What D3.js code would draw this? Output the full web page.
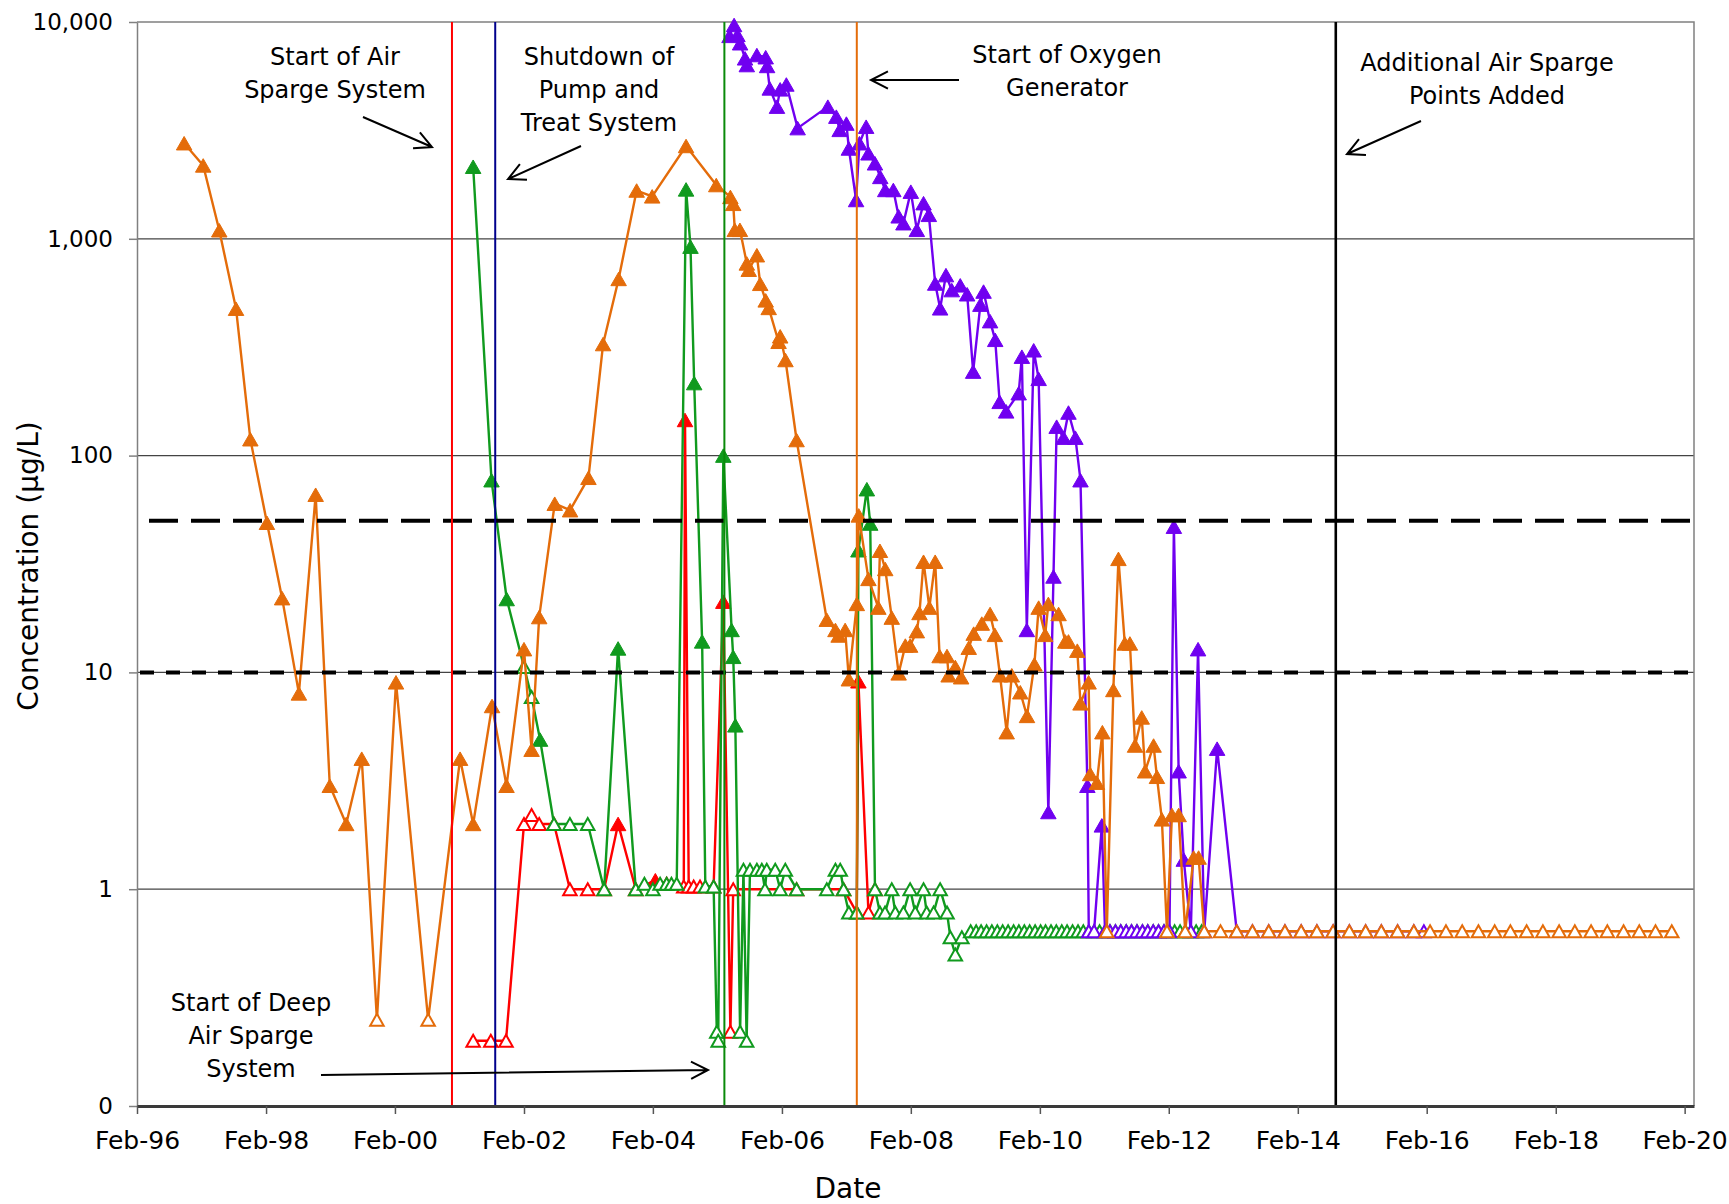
<!DOCTYPE html>
<html>
<head>
<meta charset="utf-8">
<script src="https://cdn.jsdelivr.net/npm/d3@7"></script>
<style>
  html, body { margin: 0; padding: 0; background: #fff; }
  svg { display: block; }
</style>
</head>
<body>
<svg id="chart" width="1729" height="1204"></svg>
<script>
// ---- data ("<x" = non-detect at reporting limit x) ----
const orangeDates = [
  "1996-10-25","1997-02-10","1997-05-12","1997-08-15","1997-11-04","1998-02-06","1998-05-03","1998-08-06","1998-11-09","1999-01-28",
  "1999-05-01","1999-07-28","1999-10-22","2000-02-07","2000-08-07","2001-02-04","2001-04-19","2001-08-04","2001-10-25","2002-02-01",
  "2002-03-16","2002-04-28","2002-07-25","2002-10-20","2003-02-01","2003-04-25","2003-07-22","2003-11-01","2004-01-28","2004-08-07",
  "2005-01-25","2005-04-15","2005-05-01","2005-05-10","2005-06-08","2005-07-17","2005-07-28","2005-09-12","2005-10-01","2005-11-01",
  "2005-11-18","2006-01-13","2006-01-22","2006-02-21","2006-04-25","2006-10-13","2006-12-01","2006-12-19","2007-01-25","2007-02-15",
  "2007-04-01","2007-04-12","2007-06-06","2007-08-01","2007-08-10","2007-09-09","2007-10-16","2007-11-24","2008-01-01","2008-01-28",
  "2008-03-06","2008-03-21","2008-04-13","2008-05-16","2008-06-18","2008-07-13","2008-08-24","2008-09-02","2008-10-10","2008-11-12",
  "2008-12-25","2009-01-22","2009-03-09","2009-04-25","2009-05-22","2009-06-20","2009-07-28","2009-08-26","2009-10-13","2009-11-20",
  "2010-01-01","2010-01-25","2010-03-03","2010-03-21","2010-05-18","2010-06-25","2010-07-13","2010-09-01","2010-09-19","2010-11-04",
  "2010-11-13","2010-12-21","2011-01-21","2011-02-15","2011-03-24","2011-04-22","2011-05-28","2011-06-26","2011-07-25","2011-09-01",
  "2011-09-20","2011-11-07","2011-11-26","2011-12-24","2012-01-22","2012-02-19","2012-03-28","2012-05-04","2012-06-21","2012-07-19",
  "2012-08-20","2012-11-20","2013-02-20","2013-05-20","2013-08-20","2013-11-20","2014-02-20","2014-05-20","2014-08-20","2014-11-20",
  "2015-02-20","2015-05-20","2015-08-20","2015-11-20","2016-02-20","2016-05-20","2016-08-20","2016-11-20","2017-02-20","2017-05-20",
  "2017-08-20","2017-11-20","2018-02-20","2018-05-20","2018-08-20","2018-11-20","2019-02-20","2019-05-20","2019-08-20","2019-11-20"
];
const orangeValues = [
  2760, 2180, 1095, 476, 119, 49, 22, 8.0, 66, 3.0,
  2.0, 4.0, "<0.25", 9.0, "<0.25", 4.0, 2.0, 7.0, 3.0, 12.8,
  4.4, 18, 60, 56, 79, 327, 653, 1670, 1570, 2680,
  1770, 1560, 1450, 1100, 1100, 770, 720, 840, 620, 520,
  480, 335, 355, 276, 118, 17.5, 15.7, 14.8, 15.7, 9.3,
  20.7, 53, 27, 19.9, 36.4, 30, 17.9, 9.9, 13.3, 13.3,
  15.5, 18.8, 32.4, 19.9, 32.4, 11.9, 11.9, 9.7, 10.6, 9.5,
  13.0, 15.1, 16.8, 18.6, 14.9, 9.7, 5.3, 9.7, 8.1, 6.3,
  10.9, 19.9, 14.9, 20.7, 18.6, 13.9, 13.9, 12.6, 7.2, 9.0,
  3.4, 3.1, 5.3, "<0.64", 8.3, 33.4, 13.6, 13.6, 4.6, 6.2,
  3.5, 4.6, 3.3, 2.1, "<0.64", 2.2, 2.2, "<0.64", 1.4, 1.4,
  "<0.64", "<0.64", "<0.64", "<0.64", "<0.64", "<0.64", "<0.64", "<0.64", "<0.64", "<0.64",
  "<0.64", "<0.64", "<0.64", "<0.64", "<0.64", "<0.64", "<0.64", "<0.64", "<0.64", "<0.64",
  "<0.64", "<0.64", "<0.64", "<0.64", "<0.64", "<0.64", "<0.64", "<0.64", "<0.64", "<0.64"
];

const greenDates = [
  "2001-04-19","2001-08-01","2001-10-26","2002-02-01","2002-03-16","2002-05-03","2002-07-21","2002-10-19","2003-01-28","2003-05-01",
  "2003-07-19","2003-10-27","2003-12-15","2004-02-01","2004-03-13","2004-04-19","2004-05-16","2004-06-15","2004-08-07","2004-09-01",
  "2004-09-22","2004-11-06","2004-11-24","2005-01-10","2005-01-28","2005-02-05","2005-03-06","2005-04-22","2005-05-01","2005-05-13",
  "2005-06-09","2005-06-28","2005-07-16","2005-08-04","2005-09-12","2005-10-10","2005-10-28","2005-11-07","2005-12-25","2006-01-22",
  "2006-02-20","2006-04-25","2006-10-13","2006-12-01","2006-12-28","2007-01-16","2007-02-15","2007-04-01","2007-04-10","2007-05-28",
  "2007-06-16","2007-07-13","2007-08-10","2007-09-08","2007-10-16","2007-11-05","2007-12-21","2008-01-28","2008-02-26","2008-04-13",
  "2008-05-01","2008-06-09","2008-07-16","2008-08-24","2008-09-12","2008-10-10","2008-11-16",
  "2009-01-05","2009-02-05","2009-03-05","2009-04-05","2009-05-05","2009-06-05","2009-07-05","2009-08-05","2009-09-05","2009-10-05","2009-11-05","2009-12-05",
  "2010-01-05","2010-02-05","2010-03-05","2010-04-05","2010-05-05","2010-06-05","2010-07-05","2010-08-05","2010-09-05","2010-10-05","2010-11-05","2010-12-05",
  "2011-01-05","2011-02-05","2011-03-05","2011-04-05","2011-05-05","2011-06-05","2011-07-05","2011-08-05","2011-09-05","2011-10-05","2011-11-05","2011-12-05",
  "2012-01-05","2012-02-05","2012-03-05","2012-04-05","2012-05-05","2012-06-05","2012-07-05","2012-08-05"
];
const greenValues = [
  2150, 77, 21.8, "<10.6", "<7.7", 4.9, "<2", "<2", "<2", "<1",
  12.9, "<1", "<1.06", "<1", "<1.06", "<1.06", "<1.06", "<1.06", 1690, 920,
  216, 13.9, "<1.03", "<1.03", "<0.22", "<0.2", 100, 15.7, 11.8, 5.7,
  "<0.22", "<1.23", "<0.2", "<1.23", "<1.23", "<1.23", "<1", "<1.23", "<1.23", "<1",
  "<1.23", "<1", "<1", "<1.23", "<1.23", "<1", "<0.78", "<0.78", 36.6, 70,
  48.6, "<1", "<0.78", "<0.78", "<1", "<0.78", "<0.78", "<1", "<0.78", "<1",
  "<0.78", "<0.78", "<1", "<0.78", "<0.6", "<0.5", "<0.6",
  "<0.64", "<0.64", "<0.64", "<0.64", "<0.64", "<0.64", "<0.64", "<0.64", "<0.64", "<0.64", "<0.64", "<0.64",
  "<0.64", "<0.64", "<0.64", "<0.64", "<0.64", "<0.64", "<0.64", "<0.64", "<0.64", "<0.64", "<0.64", "<0.64",
  "<0.64", "<0.64", "<0.64", "<0.64", "<0.64", "<0.64", "<0.64", "<0.64", "<0.64", "<0.64", "<0.64", "<0.64",
  "<0.64", "<0.64", "<0.64", "<0.64", "<0.64", "<0.64", "<0.64", "<0.64"
];

const redDates = [
  "2001-04-19","2001-07-28","2001-10-22","2002-02-01","2002-03-16","2002-04-28","2002-07-21","2002-10-19","2003-01-28","2003-05-01",
  "2003-07-19","2003-10-27","2004-02-15","2004-04-19","2004-07-25","2004-08-01","2004-08-22","2004-09-19","2004-10-25","2005-01-10",
  "2005-03-06","2005-04-15","2005-05-01","2006-04-25","2007-01-16","2007-04-01","2007-04-10","2007-06-06","2007-07-13"
];
const redValues = [
  "<0.2", "<0.2", "<0.2", "<2", "<2.2", "<2", "<2", "<1", "<1", "<1",
  2.0, "<1", 1.1, "<1.06", "<1.03", 146, "<1.03", "<1.03", "<1.03", "<1.03",
  21.2, "<0.22", "<1", "<1", "<1", "<0.78", 9.1, "<0.78", "<1"
];

const purpleDates = [
  "2005-04-10","2005-05-06","2005-05-25","2005-06-09","2005-07-07","2005-07-17","2005-09-12","2005-11-01","2005-11-09","2005-11-24",
  "2006-01-04","2006-01-22","2006-02-26","2006-05-01","2006-10-19","2006-12-06","2006-12-25","2007-02-01","2007-02-15","2007-03-28",
  "2007-04-16","2007-05-24","2007-06-06","2007-07-13","2007-08-12","2007-09-09","2007-10-25","2007-11-24","2007-12-21","2008-02-01",
  "2008-03-06","2008-04-13","2008-05-13","2008-06-18","2008-07-16","2008-08-18","2008-09-20","2008-11-07","2008-12-16","2009-01-19",
  "2009-03-01","2009-03-19","2009-04-25","2009-05-24","2009-06-18","2009-07-25","2009-10-04","2009-10-22","2009-11-19","2009-12-28",
  "2010-01-25","2010-03-21","2010-04-19","2010-05-07","2010-06-15","2010-07-13","2010-08-21","2010-09-19","2010-10-28","2010-11-05",
  "2010-12-05","2011-01-18","2011-02-05","2011-03-05","2011-04-05","2011-05-05","2011-06-05","2011-07-05","2011-08-05","2011-09-05",
  "2011-10-05","2011-11-05","2011-12-05","2012-01-05","2012-02-05","2012-03-01","2012-03-28","2012-04-26","2012-06-05","2012-07-16",
  "2012-08-20","2012-11-01","2013-02-20","2013-05-20","2013-08-20","2013-11-20","2014-02-20","2014-05-20","2014-08-20","2014-11-20",
  "2015-02-20","2015-05-20","2015-08-20","2015-11-20","2016-01-16"
];
const purpleValues = [
  8630, 9690, 8720, 7980, 6800, 6330, 7040, 6880, 6270, 4940,
  4070, 4890, 5150, 3240, 4070, 3660, 3180, 3400, 2610, 1510,
  2760, 3290, 2480, 2230, 1930, 1680, 1680, 1270, 1180, 1650,
  1100, 1460, 1290, 622, 478, 680, 580, 610, 555, 244,
  497, 571, 417, 342, 177, 160, 194, 286, 15.7, 306,
  226, 2.27, 27.7, 136, 121, 158, 121, 77, 3.0, "<0.64",
  "<0.64", 1.97, "<0.64", "<0.64", "<0.64", "<0.64", "<0.64", "<0.64", "<0.64", "<0.64",
  "<0.64", "<0.64", "<0.64", "<0.64", "<0.64", 47, 3.5, 1.37, "<0.64", 12.8,
  "<0.64", 4.45, "<0.64", "<0.64", "<0.64", "<0.64", "<0.64", "<0.64", "<0.64", "<0.64",
  "<0.64", "<0.64", "<0.64", "<0.64", "<0.64"
];

// remediation milestones (vertical lines) and screening criteria (dashed lines)
const eventDates = ["2000-12-20", "2001-08-22", "2005-03-12", "2007-04-01", "2014-09-04"];
const criteriaValues = [50, 10];

const yTicks = [0.1, 1, 10, 100, 1000, 10000];
const yTickLabels = ["0", "1", "10", "100", "1,000", "10,000"];
const xTickYears = [1996, 1998, 2000, 2002, 2004, 2006, 2008, 2010, 2012, 2014, 2016, 2018, 2020];

const notes = [
  ["Start of Air", "Sparge System"],
  ["Shutdown of", "Pump and", "Treat System"],
  ["Start of Oxygen", "Generator"],
  ["Additional Air Sparge", "Points Added"],
  ["Start of Deep", "Air Sparge", "System"]
];

// ---- layout ----
const FONT = "'DejaVu Sans', sans-serif";
const W = 1729, H = 1204;
const margin = { top: 22, right: 35, bottom: 98, left: 137 };
const width = W - margin.left - margin.right;
const height = H - margin.top - margin.bottom;

const parseDate = d3.timeParse("%Y-%m-%d");

const toRows = (dates, values) =>
  dates.map((d, i) => {
    const raw = values[i];
    const nd = typeof raw === "string" && raw.startsWith("<");
    return { date: parseDate(d), value: nd ? +raw.slice(1) : +raw, nd };
  });

const series = [
  { rows: toRows(redDates, redValues), color: "#FF0000" },
  { rows: toRows(greenDates, greenValues), color: "#109A1E" },
  { rows: toRows(purpleDates, purpleValues), color: "#7000F0" },
  { rows: toRows(orangeDates, orangeValues), color: "#E46C0A" }
];

const eventColors = ["#FF0000", "#00008C", "#0A8A0A", "#E46C0A", "#000000"];

const x = d3.scaleTime()
  .domain([parseDate("1996-02-01"), parseDate("2020-03-25")])
  .range([0, width]);
const y = d3.scaleLog().domain([0.1, 10000]).range([height, 0]);

const svg = d3.select("#chart").attr("font-family", FONT);
svg.append("rect").attr("width", W).attr("height", H).attr("fill", "#fff");

const g = svg.append("g").attr("transform", `translate(${margin.left},${margin.top})`);

// gridlines
g.selectAll(".grid")
  .data([1, 10, 100, 1000])
  .join("line")
  .attr("x1", 0).attr("x2", width)
  .attr("y1", (d) => y(d)).attr("y2", (d) => y(d))
  .attr("stroke", "#444").attr("stroke-width", 1.2);

// top + right frame
g.append("path")
  .attr("d", `M0,${y(10000)}H${width}V${height}`)
  .attr("fill", "none").attr("stroke", "#808080").attr("stroke-width", 1.5);

// series lines and markers
const line = d3.line().x((d) => x(d.date)).y((d) => y(d.value));
const tri = (w, h) => `M0,${-h / 2}L${w / 2},${h / 2}L${-w / 2},${h / 2}Z`;

series.forEach((s) => {
  const sg = g.append("g");
  sg.append("path")
    .datum(s.rows)
    .attr("d", line)
    .attr("fill", "none")
    .attr("stroke", s.color)
    .attr("stroke-width", 2.4)
    .attr("stroke-linejoin", "round");
  sg.selectAll("path.mk")
    .data(s.rows)
    .join("path")
    .attr("class", "mk")
    .attr("transform", (d) => `translate(${x(d.date)},${y(d.value)})`)
    .attr("d", (d) => (d.nd ? tri(13.5, 12) : tri(15.5, 13.5)))
    .attr("fill", (d) => (d.nd ? "#fff" : s.color))
    .attr("stroke", s.color)
    .attr("stroke-width", (d) => (d.nd ? 2 : 1));
});

// criteria dashed lines
g.selectAll(".crit")
  .data(criteriaValues)
  .join("line")
  .attr("x1", 0).attr("x2", width)
  .attr("y1", (d) => y(d)).attr("y2", (d) => y(d))
  .attr("stroke", "#000").attr("stroke-width", 4)
  .attr("stroke-dasharray", (d, i) => (i === 0 ? "29,13" : "14,12"))
  .attr("stroke-dashoffset", (d, i) => (i === 0 ? -12 : -3));

// milestone vertical lines
g.selectAll(".event")
  .data(eventDates)
  .join("line")
  .attr("x1", (d) => x(parseDate(d))).attr("x2", (d) => x(parseDate(d)))
  .attr("y1", y(10000)).attr("y2", height)
  .attr("stroke", (d, i) => eventColors[i])
  .attr("stroke-width", (d, i) => (i === 4 ? 2.6 : 2));

// axes
const yAxis = g.append("g")
  .call(d3.axisLeft(y).tickValues(yTicks).tickFormat((d, i) => yTickLabels[i])
    .tickSize(8).tickSizeOuter(0).tickPadding(16))
  .attr("font-family", FONT).attr("font-size", 23);
yAxis.select(".domain").attr("stroke", "#808080").attr("stroke-width", 1.5);
yAxis.selectAll(".tick line").attr("stroke", "#808080").attr("stroke-width", 1.5);
yAxis.selectAll(".tick text").attr("fill", "#000");

const xAxis = g.append("g")
  .attr("transform", `translate(0,${height})`)
  .call(d3.axisBottom(x)
    .tickValues(xTickYears.map((yr) => new Date(yr, 1, 1)))
    .tickFormat(d3.timeFormat("%b-%y"))
    .tickSize(8).tickSizeOuter(0).tickPadding(17))
  .attr("font-family", FONT).attr("font-size", 25);
xAxis.select(".domain").attr("stroke", "#3a3a3a").attr("stroke-width", 3);
xAxis.selectAll(".tick line").attr("stroke", "#555").attr("stroke-width", 1.5);
xAxis.selectAll(".tick text").attr("fill", "#000");

// axis titles
svg.append("text")
  .attr("transform", "translate(38,566) rotate(-90)")
  .attr("text-anchor", "middle")
  .attr("font-size", 28)
  .text("Concentration (µg/L)");
svg.append("text")
  .attr("x", 848).attr("y", 1198)
  .attr("text-anchor", "middle")
  .attr("font-size", 28)
  .text("Date");

// annotations: [center x, first baseline]
const notePos = [[335, 65], [599, 65], [1067, 63], [1487, 71], [251, 1011]];
notes.forEach((lines, i) => {
  const t = svg.append("text")
    .attr("text-anchor", "middle")
    .attr("font-size", 24)
    .attr("fill", "#000");
  lines.forEach((txt, j) => {
    t.append("tspan")
      .attr("x", notePos[i][0])
      .attr("y", notePos[i][1] + j * 33)
      .text(txt);
  });
});

const arrow = (x1, y1, x2, y2) => {
  const a = Math.atan2(y2 - y1, x2 - x1);
  const len = 19, spread = 0.47;
  const p1 = [x2 - len * Math.cos(a - spread), y2 - len * Math.sin(a - spread)];
  const p2 = [x2 - len * Math.cos(a + spread), y2 - len * Math.sin(a + spread)];
  return `M${x1},${y1}L${x2},${y2}M${p1}L${x2},${y2}L${p2}`;
};
const arrows = [
  [363, 117, 432, 147],
  [581, 146, 508, 179],
  [959, 80, 871, 80],
  [1421, 121, 1347, 154],
  [321, 1075, 708, 1070]
];
svg.selectAll(".arrow")
  .data(arrows)
  .join("path")
  .attr("d", (d) => arrow(...d))
  .attr("fill", "none")
  .attr("stroke", "#000")
  .attr("stroke-width", 2);
</script>
</body>
</html>
